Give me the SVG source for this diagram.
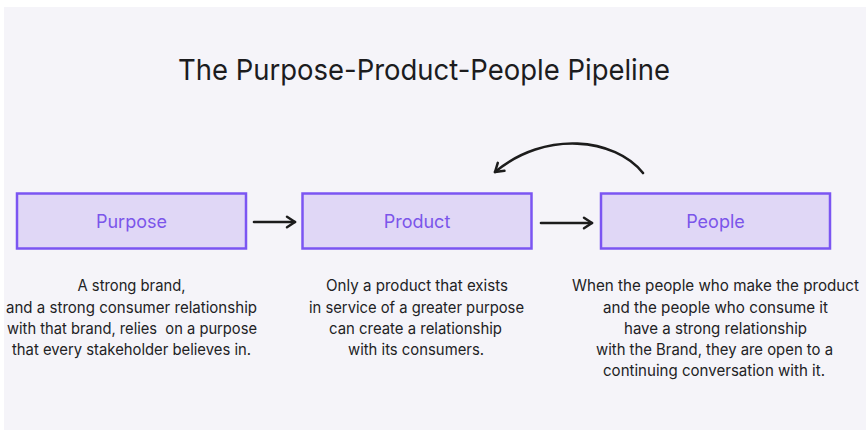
<svg xmlns="http://www.w3.org/2000/svg" width="866" height="430" viewBox="0 0 866 430">
  <defs>
    <style>
      .panel { fill: #f5f4f9; }
      .box { fill: #e0d7f6; stroke: #7b55f2; stroke-width: 2.5; }
      .label { font-family: Inter, "Liberation Sans", sans-serif; font-size: 18px; fill: #7b55ea; text-anchor: middle; }
      .title { font-family: Inter, "Liberation Sans", sans-serif; font-size: 29px; fill: #1c1c1e; text-anchor: middle; }
      .body { font-family: Inter, "Liberation Sans", sans-serif; font-size: 15.5px; fill: #222224; text-anchor: middle; white-space: pre; }
      .link { fill: none; stroke: #1c1c1c; stroke-width: 2.6; stroke-linecap: round; }
    </style>
    <marker id="head" viewBox="0 0 14 14" refX="11.5" refY="7" markerWidth="14" markerHeight="14" markerUnits="userSpaceOnUse" orient="auto">
      <path d="M3.5,1.8 L11.5,7 L3.5,12.2" fill="none" stroke="#1c1c1c" stroke-width="2.5" stroke-linecap="round" stroke-linejoin="round"/>
    </marker>
  </defs>

  <rect class="panel" x="4" y="7" width="862" height="423"/>

  <text class="title" x="424" y="80" textLength="492" lengthAdjust="spacingAndGlyphs">The Purpose-Product-People Pipeline</text>

  <g id="purpose">
    <rect class="box" x="17" y="193.5" width="229" height="55"/>
    <text class="label" x="131.5" y="228">Purpose</text>
    <text class="body" x="131.5" y="291" textLength="108" lengthAdjust="spacingAndGlyphs">A strong brand,</text>
    <text class="body" x="131.5" y="312.5" textLength="251" lengthAdjust="spacingAndGlyphs">and a strong consumer relationship</text>
    <text class="body" x="132" y="334" textLength="250" lengthAdjust="spacingAndGlyphs">with that brand, relies  on a purpose</text>
    <text class="body" x="131.5" y="355" textLength="239" lengthAdjust="spacingAndGlyphs">that every stakeholder believes in.</text>
  </g>

  <g id="product">
    <rect class="box" x="302.5" y="193.5" width="229" height="55"/>
    <text class="label" x="417" y="228">Product</text>
    <text class="body" x="417" y="291" textLength="182" lengthAdjust="spacingAndGlyphs">Only a product that exists</text>
    <text class="body" x="416.5" y="312.5" textLength="215" lengthAdjust="spacingAndGlyphs">in service of a greater purpose</text>
    <text class="body" x="415.5" y="334" textLength="173" lengthAdjust="spacingAndGlyphs">can create a relationship</text>
    <text class="body" x="416" y="355" textLength="136" lengthAdjust="spacingAndGlyphs">with its consumers.</text>
  </g>

  <g id="people">
    <rect class="box" x="601" y="193.5" width="229" height="55"/>
    <text class="label" x="715.5" y="228">People</text>
    <text class="body" x="715.5" y="291" textLength="287" lengthAdjust="spacingAndGlyphs">When the people who make the product</text>
    <text class="body" x="715.5" y="312.5" textLength="225" lengthAdjust="spacingAndGlyphs">and the people who consume it</text>
    <text class="body" x="715.5" y="334" textLength="183" lengthAdjust="spacingAndGlyphs">have a strong relationship</text>
    <text class="body" x="714.5" y="355" textLength="237" lengthAdjust="spacingAndGlyphs">with the Brand, they are open to a</text>
    <text class="body" x="714" y="376" textLength="222" lengthAdjust="spacingAndGlyphs">continuing conversation with it.</text>
  </g>

  <g id="connectors">
    <path class="link" d="M254,222 L295,222" marker-end="url(#head)"/>
    <path class="link" d="M541,223 L592,223" marker-end="url(#head)"/>
    <path class="link" d="M643,173 C615,138 545,130 495,172" marker-end="url(#head)"/>
  </g>
</svg>
